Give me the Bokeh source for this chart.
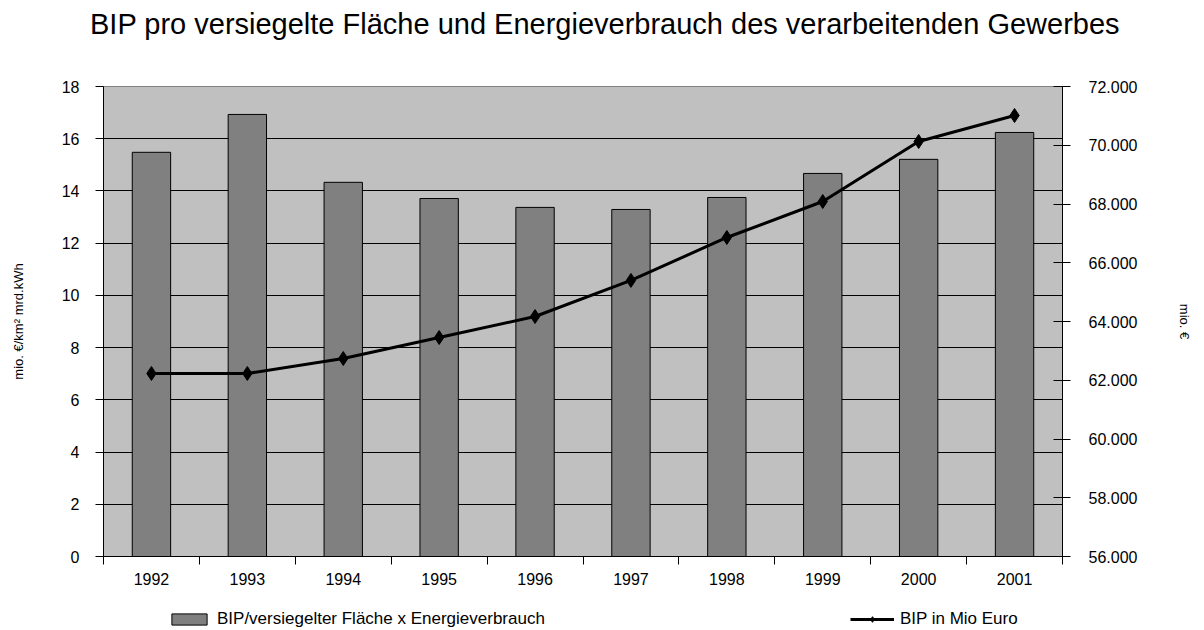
from bokeh.plotting import figure
from bokeh.models import (ColumnDataSource, Range1d, LinearAxis, FixedTicker,
                          Legend, LegendItem, Div)
from bokeh.layouts import column
from bokeh.embed import file_html
from bokeh.resources import INLINE

# ---- data ----
title_text = "BIP pro versiegelte Fläche und Energieverbrauch des verarbeitenden Gewerbes"
years = ["1992", "1993", "1994", "1995", "1996", "1997", "1998", "1999", "2000", "2001"]
bip_flaeche_energie = [15.48, 16.93, 14.33, 13.71, 13.37, 13.29, 13.75, 14.67, 15.21, 16.24]
bip_mio_euro = [62230, 62230, 62740, 63455, 64170, 65400, 66860, 68085, 70128, 71013]
left_ticks = [0, 2, 4, 6, 8, 10, 12, 14, 16, 18]
right_ticks = [56000, 58000, 60000, 62000, 64000, 66000, 68000, 70000, 72000]
legend_labels = ["BIP/versiegelter Fläche x Energieverbrauch", "BIP in Mio Euro"]

FONT = "Liberation Sans"
BAR_FILL = "#808080"

xpos = [i + 0.5 for i in range(len(years))]
src = ColumnDataSource(dict(x=xpos, year=years, bar=bip_flaeche_energie, bip=bip_mio_euro))

# ---- title ----
title = Div(
    text=('<div style="padding:10px 0 0 90px; font-family:\'Liberation Sans\'; '
          'font-size:29px; line-height:29px; color:black; white-space:nowrap;">'
          + title_text + '</div>'),
    width=1204, height=50, margin=0)

# ---- main chart ----
p = figure(width=1204, height=554, output_backend="svg", toolbar_location=None, title=None,
           x_range=Range1d(0, len(years)), y_range=Range1d(0, 18),
           min_border_left=103, min_border_right=142, min_border_top=36, min_border_bottom=48,
           background_fill_color="#C0C0C0", border_fill_color="white")
p.extra_y_ranges = {"right": Range1d(56000, 72000)}

p.outline_line_color = "#808080"
p.xgrid.grid_line_color = None
p.ygrid.ticker = FixedTicker(ticks=left_ticks)
p.ygrid.grid_line_color = "black"
p.ygrid.grid_line_width = 1

# bottom axis: labels at category centres, ticks at category boundaries
xa = p.xaxis[0]
xa.ticker = FixedTicker(ticks=xpos, minor_ticks=list(range(len(years) + 1)))
xa.major_label_overrides = {x: y for x, y in zip(xpos, years)}
xa.major_tick_line_color = None
xa.major_tick_out = 8
xa.major_tick_in = 0
xa.minor_tick_out = 8
xa.minor_tick_in = 0
xa.minor_tick_line_color = "black"
xa.axis_line_color = "black"
xa.major_label_standoff = 8
xa.major_label_text_font = FONT
xa.major_label_text_font_size = "16px"
xa.major_label_text_color = "black"

# left axis
ya = p.yaxis[0]
ya.ticker = FixedTicker(ticks=left_ticks)
ya.major_tick_out = 8
ya.major_tick_in = 0
ya.minor_tick_line_color = None
ya.axis_line_color = "black"
ya.major_label_standoff = 16
ya.major_label_text_font = FONT
ya.major_label_text_font_size = "16px"
ya.major_label_text_color = "black"
ya.axis_label = "mio. €/km² mrd.kWh"
ya.axis_label_text_font = FONT
ya.axis_label_text_font_size = "13px"
ya.axis_label_text_font_style = "normal"
ya.axis_label_text_color = "black"
ya.axis_label_standoff = 33

# right axis
ra = LinearAxis(y_range_name="right", ticker=FixedTicker(ticks=right_ticks))
ra.major_label_overrides = {t: f"{t:,}".replace(",", ".") for t in right_ticks}
ra.major_tick_out = 8
ra.major_tick_in = 9
ra.minor_tick_line_color = None
ra.axis_line_color = "black"
ra.major_label_standoff = 18
ra.major_label_text_font = FONT
ra.major_label_text_font_size = "16px"
ra.major_label_text_color = "black"
ra.axis_label = "mio. €"
ra.axis_label_text_font = FONT
ra.axis_label_text_font_size = "13px"
ra.axis_label_text_font_style = "normal"
ra.axis_label_text_color = "black"
ra.axis_label_standoff = 37
p.add_layout(ra, "right")

p.vbar(x="x", top="bar", width=0.4, source=src,
       fill_color=BAR_FILL, line_color="black", line_width=1)
p.line(x="x", y="bip", source=src, y_range_name="right",
       line_color="black", line_width=3)
p.scatter(x="x", y="bip", source=src, y_range_name="right",
          marker="diamond", size=14, fill_color="black", line_color="black")

# ---- legend strip below the chart (its own renderers lie outside its view) ----
lg = figure(width=1204, height=26, output_backend="svg", toolbar_location=None,
            x_axis_type=None, y_axis_type=None, title=None,
            x_range=Range1d(100, 101), y_range=Range1d(100, 101),
            min_border=0, outline_line_color=None,
            background_fill_color="white", border_fill_color="white")
lg.xgrid.visible = False
lg.ygrid.visible = False
lb = lg.vbar(x="x", top="bar", width=0.4, source=src,
             fill_color=BAR_FILL, line_color="black", line_width=1)
ll = lg.line(x="x", y="bar", source=src, line_color="black", line_width=3)
lm = lg.scatter(x="x", y="bar", source=src, marker="diamond", size=14,
                fill_color="black", line_color="black")

legend = Legend(items=[
    LegendItem(label=legend_labels[0], renderers=[lb]),
    LegendItem(label=legend_labels[1], renderers=[ll, lm]),
], orientation="horizontal", location=(64, 1))
legend.border_line_color = None
legend.background_fill_alpha = 0
legend.label_text_font = FONT
legend.label_text_font_size = "17px"
legend.label_text_color = "black"
legend.glyph_width = 44
legend.glyph_height = 14
legend.label_height = 18
legend.label_standoff = 6
legend.spacing = 305
legend.padding = 0
legend.margin = 0
lg.add_layout(legend, "center")

open("out.html", "w").write(file_html(column(title, p, lg, spacing=0), INLINE))
